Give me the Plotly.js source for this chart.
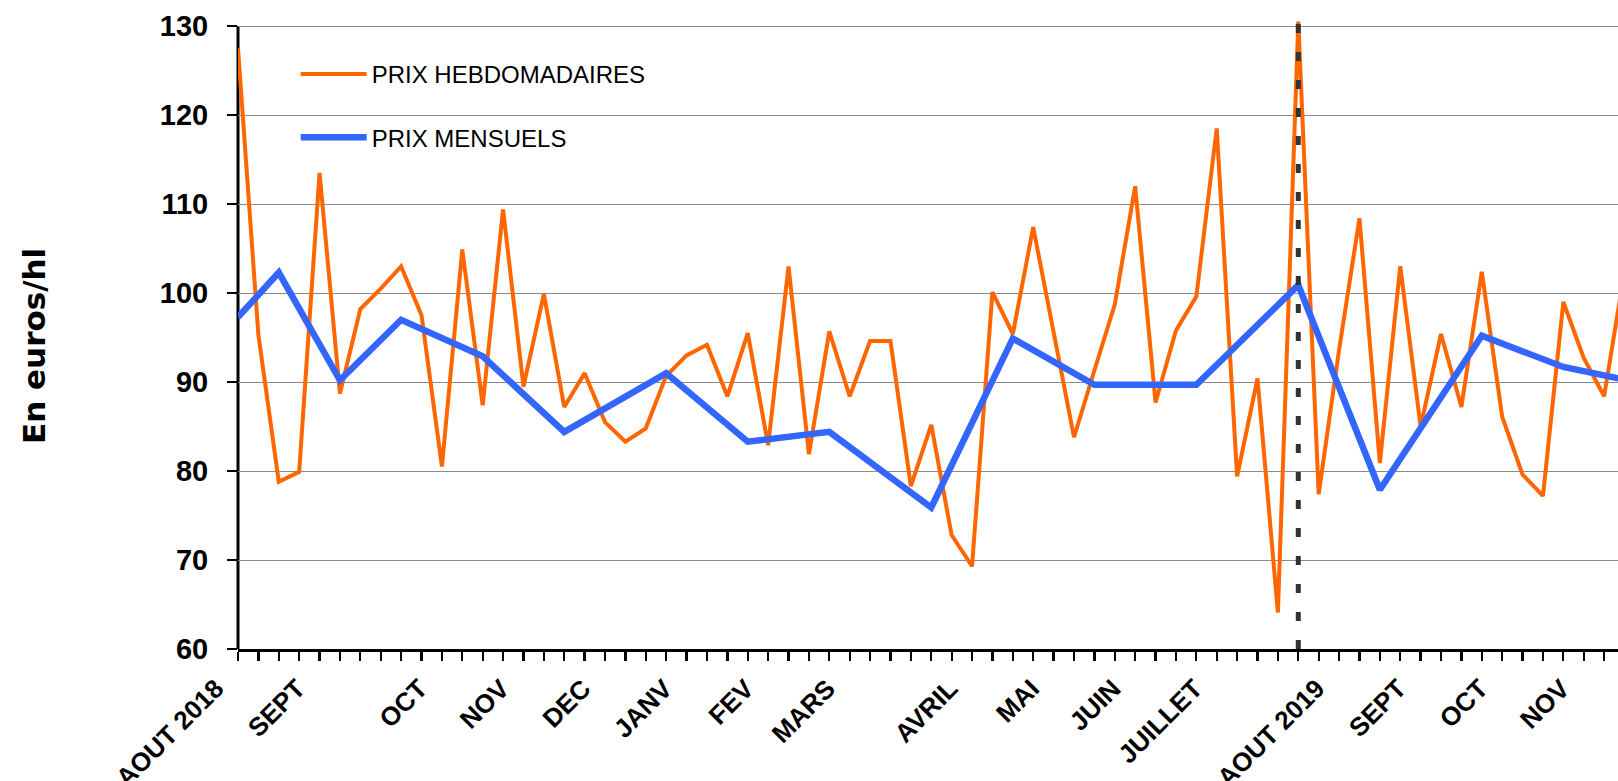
<!DOCTYPE html>
<html>
<head>
<meta charset="utf-8">
<script src="https://cdn.plot.ly/plotly-3.0.1.min.js"></script>
<style>
  html, body { margin: 0; padding: 0; background: #ffffff; }
  #chart { width: 1618px; height: 781px; }
</style>
</head>
<body>
<div id="chart"></div>
<script>
// ---- Data ----
// Weekly prices (euros/hl), one value per week, starting first week of August 2018
const weeklyPrices = [
  127.5, 95.3, 78.8, 79.9, 113.5, 88.7, 98.2, 100.5, 103.0, 97.5,
  80.5, 104.9, 87.4, 109.4, 89.5, 99.9, 87.2, 91.0, 85.5, 83.3,
  84.8, 90.7, 93.0, 94.2, 88.4, 95.5, 82.9, 103.0, 81.9, 95.7,
  88.4, 94.6, 94.6, 78.3, 85.2, 72.8, 69.3, 100.1, 95.4, 107.4,
  95.6, 83.8, 91.3, 98.7, 112.0, 87.7, 95.8, 99.6, 118.5, 79.4,
  90.4, 64.1, 130.5, 77.4, 93.6, 108.4, 80.9, 103.0, 85.0, 95.4,
  87.2, 102.4, 86.1, 79.6, 77.2, 99.0, 92.7, 88.4, 102.5
];

// Monthly prices: week index at which each monthly value is plotted, and the value
const monthlyWeek   = [0, 2, 5, 8, 12, 16, 21, 25, 29, 34, 38, 42, 47, 52, 56, 61, 65, 69];
const monthlyPrices = [97.3, 102.3, 90.2, 97.0, 92.9, 84.4, 91.0, 83.3, 84.4, 75.9,
                       94.9, 89.7, 89.7, 100.9, 77.9, 95.2, 91.7, 89.8];

// Category-axis labels (week index -> month label)
const labelWeek = [0, 4, 10, 14, 18, 22, 26, 30, 36, 40, 44, 48, 54, 58, 62, 66];
const labelText = ['AOUT 2018', 'SEPT', 'OCT', 'NOV', 'DEC', 'JANV', 'FEV', 'MARS',
                   'AVRIL', 'MAI', 'JUIN', 'JUILLET', 'AOUT 2019', 'SEPT', 'OCT', 'NOV'];

const seriesNames = ['PRIX HEBDOMADAIRES', 'PRIX MENSUELS'];
const yTicks = [60, 70, 80, 90, 100, 110, 120, 130];
const yTitle = 'En euros/hl';

// Index of the month marked by the dashed vertical line (AOUT 2019)
const markedMonth = 13;

// ---- Build ----
const weekX = weeklyPrices.map((_, i) => i);
const visibleWeeks = 68;               // ticks shown across the cropped axis
const tickVals = [];
const tickText = [];
for (let i = 0; i < visibleWeeks; i++) {
  tickVals.push(i);
  const k = labelWeek.indexOf(i);
  tickText.push(k >= 0 ? labelText[k] : '');
}

const xRange = [0, 67.68];
const yRange = [60, 130.8];

const traces = [
  {
    x: weekX, y: weeklyPrices, type: 'scatter', mode: 'lines',
    name: seriesNames[0],
    line: { color: '#FF6600', width: 4 },
    legend: 'legend',
    hoverinfo: 'skip'
  },
  {
    x: monthlyWeek, y: monthlyPrices, type: 'scatter', mode: 'lines',
    name: seriesNames[1],
    line: { color: '#3366FF', width: 6.5 },
    legend: 'legend2',
    hoverinfo: 'skip'
  }
];

const tickFontX = { family: 'Liberation Sans, Arial, sans-serif', size: 26, color: '#000000', weight: 'bold' };
const tickFontY = { family: 'Liberation Sans, Arial, sans-serif', size: 29, color: '#000000', weight: 'bold' };
const legendFont = { family: 'Liberation Sans, Arial, sans-serif', size: 24, color: '#000000' };

const layout = {
  width: 1618, height: 781,
  margin: { l: 238, r: 0, t: 19, b: 132, pad: 0 },
  paper_bgcolor: '#ffffff', plot_bgcolor: '#ffffff',
  showlegend: true,
  xaxis: {
    range: xRange, tickmode: 'array', tickvals: tickVals, ticktext: tickText,
    tickangle: -45, tickfont: tickFontX,
    ticks: 'outside', ticklen: 9, tickwidth: 2.3, tickcolor: '#000000',
    ticklabelstandoff: 2, ticklabelshift: -22,
    showline: true, linecolor: '#000000', linewidth: 3,
    showgrid: false, zeroline: false, fixedrange: true
  },
  xaxis2: {
    overlaying: 'x', anchor: 'y', side: 'bottom',
    range: xRange, tickmode: 'array', tickvals: tickVals,
    ticks: 'inside', ticklen: 8, tickwidth: 2.3, tickcolor: '#000000',
    showticklabels: false, showgrid: false, showline: false, zeroline: false
  },
  yaxis: {
    range: yRange, tickmode: 'array', tickvals: yTicks, ticktext: yTicks.map(String),
    tickfont: tickFontY,
    ticks: 'outside', ticklen: 10, tickwidth: 2.3, tickcolor: '#000000',
    ticklabelstandoff: 13,
    showline: false, showgrid: true, gridcolor: '#8a8a8a', gridwidth: 1,
    zeroline: false, fixedrange: true
  },
  yaxis2: {
    overlaying: 'y', anchor: 'x', side: 'left',
    range: yRange, tickmode: 'array', tickvals: yTicks,
    ticks: 'inside', ticklen: 8, tickwidth: 2.3, tickcolor: '#000000',
    showticklabels: false, showgrid: false, showline: false, zeroline: false
  },
  legend: {
    x: 0.0418, xanchor: 'left', y: 0.9122, yanchor: 'middle',
    bgcolor: 'rgba(0,0,0,0)', borderwidth: 0, font: legendFont, itemwidth: 66
  },
  legend2: {
    x: 0.0418, xanchor: 'left', y: 0.8116, yanchor: 'middle',
    bgcolor: 'rgba(0,0,0,0)', borderwidth: 0, font: legendFont, itemwidth: 66
  },
  annotations: [
    { text: yTitle, xref: 'paper', yref: 'paper', x: -0.1478, y: 0.481,
      xanchor: 'center', yanchor: 'middle', textangle: -90, showarrow: false,
      font: { family: 'DejaVu Sans, Verdana, sans-serif', size: 31, color: '#000000', weight: 'bold' } }
  ],
  shapes: [
    // white legend box hiding the 120 gridline behind the legend
    { type: 'rect', xref: 'paper', yref: 'y', x0: 0.006, x1: 0.331, y0: 115, y1: 125,
      fillcolor: '#ffffff', line: { width: 0 }, layer: 'between' },
    // y axis spine (stops at the top tick)
    { type: 'line', xref: 'paper', yref: 'y', x0: 0, x1: 0,
      y0: yTicks[0], y1: yTicks[yTicks.length - 1],
      line: { color: '#000000', width: 3 }, layer: 'between' },
    // dashed marker at AOUT 2019
    { type: 'line', xref: 'x', yref: 'y',
      x0: monthlyWeek[markedMonth], x1: monthlyWeek[markedMonth],
      y0: yTicks[0], y1: Math.max(...weeklyPrices),
      line: { color: '#333333', width: 5, dash: '9px,19px' }, layer: 'above' }
  ]
};

Plotly.newPlot('chart', traces, layout, { displayModeBar: false, staticPlot: true });
</script>
</body>
</html>
